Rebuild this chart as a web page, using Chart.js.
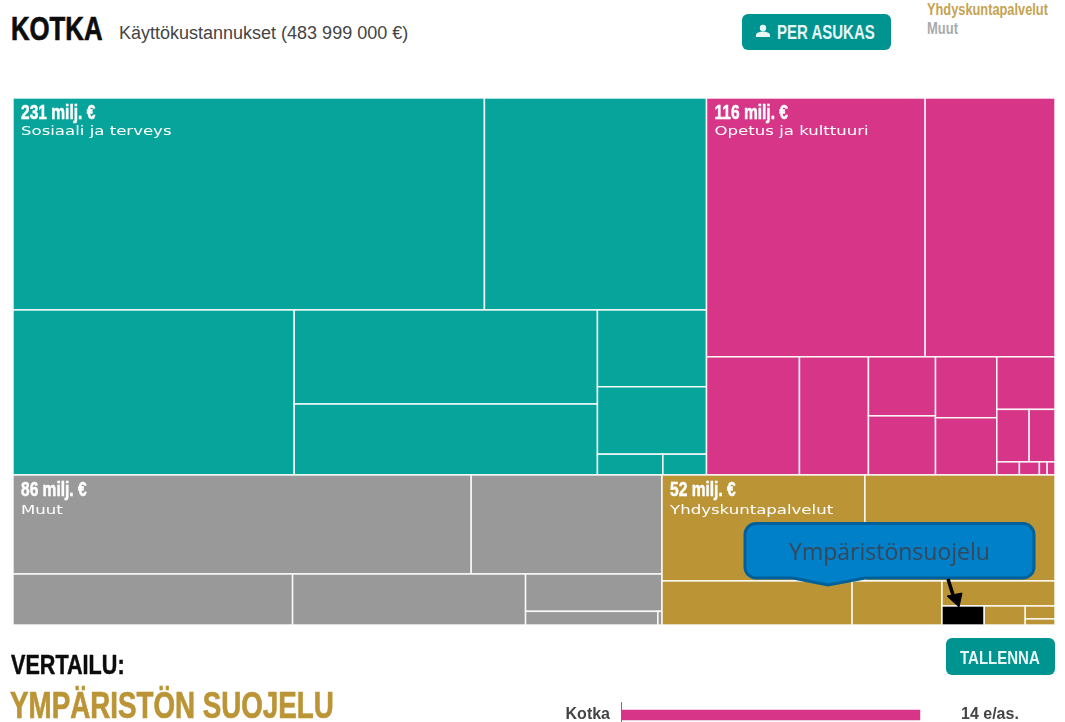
<!DOCTYPE html>
<html lang="fi">
<head>
<meta charset="utf-8">
<title>Kotka</title>
<script src="https://cdn.jsdelivr.net/npm/chart.js@4/dist/chart.umd.min.js"></script>
<style>
    html, body { margin: 0; padding: 0; width: 1065px; height: 722px; overflow: hidden; background: #fff; }
    body { position: relative; font-family: "Liberation Sans", sans-serif; }
    .txt { position: absolute; white-space: nowrap; line-height: 1; transform-origin: left top; }
    #title { left: 11px; top: 12px; font-size: 33px; font-weight: bold; color: #0c0c0c; transform: scaleX(0.78); -webkit-text-stroke: 0.7px #0c0c0c; }
    #subtitle { left: 119px; top: 24px; font-size: 18px; color: #444; }
    .btn { position: absolute; background: #009490; border-radius: 6px; color: #e6f6f5; font-weight: bold; }
    .btn span { position: absolute; line-height: 1; white-space: nowrap; transform-origin: left top; }
    #perAsukas { left: 742px; top: 14px; width: 149px; height: 36px; }
    #perAsukas span { left: 35px; top: 8px; font-size: 20px; transform: scaleX(0.75); }
    #perAsukas svg { position: absolute; left: 13px; top: 10px; }
    #tallenna { left: 946px; top: 638px; width: 109px; height: 37px; }
    #tallenna span { left: 14px; top: 10px; font-size: 19px; transform: scaleX(0.79); }
    #legendA { left: 927px; top: 2px; font-size: 16px; font-weight: bold; color: #c6a350; transform: scaleX(0.8); }
    #legendB { left: 927px; top: 21px; font-size: 16px; font-weight: bold; color: #aaa; transform: scaleX(0.81); }
    #vertailu { left: 11px; top: 652px; font-size: 27px; font-weight: bold; color: #0c0c0c; transform: scaleX(0.8); -webkit-text-stroke: 0.5px #0c0c0c; }
    #aihe { left: 10px; top: 687px; font-size: 37px; font-weight: bold; color: #bb9436; transform: scaleX(0.75); -webkit-text-stroke: 0.7px #bb9436; }
    #treemap { position: absolute; left: 13px; top: 98px; }
    #compare { position: absolute; left: 530px; top: 702px; }
    #callout { position: absolute; left: 0; top: 0; pointer-events: none; }
    #calloutText { left: 744px; top: 540px; width: 291px; text-align: center; font-family: "Open Sans", sans-serif; font-size: 23px; color: #37475a; }
</style>
</head>
<body>
<div class="txt" id="title">KOTKA</div>
<div class="txt" id="subtitle">Käyttökustannukset (483 999 000 €)</div>
<div class="btn" id="perAsukas">
    <svg width="16" height="14" viewBox="0 0 16 14"><circle cx="8" cy="4" r="3.2" fill="#e6f6f5"/><path d="M1 13v-2c0-2.2 4.4-3.4 7-3.4s7 1.200 7 3.400v2z" fill="#e6f6f5"/></svg>
    <span>PER ASUKAS</span>
</div>
<div class="txt" id="legendA">Yhdyskuntapalvelut</div>
<div class="txt" id="legendB">Muut</div>

<canvas id="treemap" width="1042" height="527"></canvas>

<svg id="callout" width="1065" height="722">
    <path d="M756 523.500H1023a11 11 0 0 1 11 11V567a11 11 0 0 1 -11 11H865L828 585 793 578H756a11 11 0 0 1 -11 -11V534.500a11 11 0 0 1 11 -11z" fill="#0080c8" stroke="#00609a" stroke-width="3"/>
    <path d="M948 579L954 598" stroke="#000" stroke-width="3.500" fill="none"/>
    <path d="M947 596L962 593 959 607z" fill="#000" stroke="#000" stroke-width="1"/>
</svg>
<div class="txt" id="calloutText">Ympäristönsuojelu</div>

<div class="txt" id="vertailu">VERTAILU:</div>
<div class="txt" id="aihe">YMPÄRISTÖN SUOJELU</div>
<div class="btn" id="tallenna"><span>TALLENNA</span></div>
<canvas id="compare" width="535" height="26"></canvas>

<script>
// cell values, milj. €
const sosiaaliValues = [88.3, 41.6, 41.0, 25.2, 19.0, 7.4, 6.5, 1.2, 0.8];
const opetusValues = [50.0, 29.7, 9.7, 7.2, 3.5, 3.5, 3.3, 3.1, 2.7, 1.5, 1.2, 0.26, 0.23, 0.09, 0.09];
const muutValues = [40.1, 16.7, 12.6, 10.5, 4.5, 1.6, 0.05];
const yhdyskuntaValues = [19.0, 17.8, 7.4, 3.5, 2.5, 0.71, 0.69, 0.34, 0.16];

// how each group is cut: 'r' stacks rows, 'c' puts columns side by side, numbers point into the values
const sosiaaliSplit = ['r', ['c', 0, 1], ['c', 2, ['r', 3, 4], ['r', 5, 6, ['c', 7, 8]]]];
const opetusSplit = ['r', ['c', 0, 1], ['c', 2, 3, ['r', 4, 5], ['r', 6, 7], ['r', 8, ['c', 9, 10], ['c', 11, 12, 13, 14]]]];
const muutSplit = ['r', ['c', 0, 1], ['c', 2, 3, ['r', 4, ['c', 5, 6]]]];
const yhdyskuntaSplit = ['r', ['c', 0, 1], ['c', 2, 3, ['r', 4, ['c', 5, 6, ['r', 7, 8]]]]];

const groupNames = ['Sosiaali ja terveys', 'Opetus ja kulttuuri', 'Muut', 'Yhdyskuntapalvelut'];
const groupAmounts = ['231 milj. €', '116 milj. €', '86 milj. €', '52 milj. €'];
const groupValues = [sosiaaliValues, opetusValues, muutValues, yhdyskuntaValues];
const groupSplits = [sosiaaliSplit, opetusSplit, muutSplit, yhdyskuntaSplit];
const groupColors = ['#06a49b', '#d63588', '#999999', '#bb9436'];
const groupRows = [[0, 1], [2, 3]];

// Ympäristönsuojelu cell
const selectedGroup = 3;
const selectedCell = 5;

const compareCities = ['Kotka'];
const compareValues = [14];
const compareUnit = 'e/as.';

function sum(list) {
    return list.reduce((a, b) => a + b, 0);
}

function nodeTotal(node, values) {
    if (typeof node === 'number') return values[node];
    return sum(node.slice(1).map(n => nodeTotal(n, values)));
}

function cutNode(node, values, box, out) {
    if (typeof node === 'number') {
        out.push({ x: box.x0, y: box.y0, x2: box.x1, y2: box.y1, cell: node });
        return;
    }
    let total = nodeTotal(node, values);
    let pos = node[0] === 'r' ? box.y0 : box.x0;
    node.slice(1).forEach(child => {
        let share = nodeTotal(child, values) / total;
        if (node[0] === 'r') {
            let next = pos + (box.y1 - box.y0) * share;
            cutNode(child, values, { x0: box.x0, x1: box.x1, y0: pos, y1: next }, out);
            pos = next;
        } else {
            let next = pos + (box.x1 - box.x0) * share;
            cutNode(child, values, { x0: pos, x1: next, y0: box.y0, y1: box.y1 }, out);
            pos = next;
        }
    });
}

let grandTotal = sum(groupValues.map(sum));
let treemapDatasets = [];
let rowTop = 0;
groupRows.forEach(row => {
    let rowTotal = sum(row.map(g => sum(groupValues[g])));
    let rowBottom = rowTop + rowTotal / grandTotal;
    let left = 0;
    row.forEach(g => {
        let right = left + sum(groupValues[g]) / rowTotal;
        let cells = [];
        cutNode(groupSplits[g], groupValues[g], { x0: left, x1: right, y0: rowTop, y1: rowBottom }, cells);
        treemapDatasets[g] = {
            label: groupNames[g],
            data: cells,
            backgroundColor: groupColors[g],
            pointRadius: 0,
            groupIndex: g
        };
        left = right;
    });
    rowTop = rowBottom;
});

// Chart.js has no treemap type, so the cells are painted here from the scales
const treemapCells = {
    id: 'treemapCells',
    beforeDatasetsDraw(chart) {
        const { ctx, scales } = chart;
        ctx.save();
        chart.data.datasets.forEach(ds => {
            ds.data.forEach(c => {
                let px = scales.x.getPixelForValue(c.x);
                let py = scales.y.getPixelForValue(c.y);
                let w = scales.x.getPixelForValue(c.x2) - px;
                let h = scales.y.getPixelForValue(c.y2) - py;
                let selected = ds.groupIndex === selectedGroup && c.cell === selectedCell;
                ctx.fillStyle = selected ? '#000' : ds.backgroundColor;
                ctx.fillRect(px, py, w, h);
                ctx.strokeStyle = 'rgba(255,255,255,0.9)';
                ctx.lineWidth = 1.5;
                ctx.strokeRect(px, py, w, h);
            });
        });
        chart.data.datasets.forEach(ds => {
            let first = ds.data[0];
            let px = scales.x.getPixelForValue(first.x) + 8;
            let py = scales.y.getPixelForValue(first.y);
            // lower row labels sit a bit further down in the original
            let nudge = first.y > 0 ? 1.5 : -0.5;
            ctx.fillStyle = '#fff';
            ctx.strokeStyle = '#fff';
            ctx.lineWidth = 0.5;
            ctx.textBaseline = 'alphabetic';
            stretchedText(ctx, groupAmounts[ds.groupIndex], 'bold 21px "Liberation Sans"', 0.74, px, py + 21, true);
            stretchedText(ctx, groupNames[ds.groupIndex], '12px "DejaVu Sans"', 1.38, px, py + 37.5 + nudge, false);
        });
        ctx.restore();
    }
};

// the original labels use a condensed and a wide face, neither is installed
function stretchedText(ctx, text, font, scaleX, x, y, heavy) {
    ctx.save();
    ctx.translate(x, y);
    ctx.scale(scaleX, 1);
    ctx.font = font;
    ctx.fillText(text, 0, 0);
    if (heavy) ctx.strokeText(text, 0, 0);
    ctx.restore();
}

new Chart(document.getElementById('treemap'), {
    type: 'scatter',
    data: { datasets: treemapDatasets },
    options: {
        responsive: false,
        animation: false,
        layout: { padding: 0 },
        scales: {
            x: { type: 'linear', display: false, min: 0, max: 1 },
            y: { type: 'linear', display: false, min: 0, max: 1, reverse: true }
        },
        plugins: { legend: { display: false }, tooltip: { enabled: false } }
    },
    plugins: [treemapCells]
});

const compareLabels = {
    id: 'compareLabels',
    afterDatasetsDraw(chart) {
        const { ctx, chartArea } = chart;
        let bar = chart.getDatasetMeta(0).data[0];
        ctx.save();
        ctx.fillStyle = '#444';
        ctx.font = 'bold 16px "Liberation Sans"';
        ctx.textBaseline = 'middle';
        ctx.fillText(compareValues[0] + ' ' + compareUnit, chartArea.left + 340, bar.y);
        ctx.restore();
    }
};

new Chart(document.getElementById('compare'), {
    type: 'bar',
    data: {
        labels: compareCities,
        datasets: [{
            data: compareValues,
            backgroundColor: '#d63588',
            barThickness: 10
        }]
    },
    options: {
        indexAxis: 'y',
        responsive: false,
        animation: false,
        layout: { padding: { right: 17 } },
        scales: {
            x: { type: 'linear', display: false, min: 0, max: 20 },
            y: {
                afterFit: scale => {
                    scale.width = 91;
                    scale.paddingTop = 0;
                    scale.paddingBottom = 0;
                },
                grid: { display: false, drawTicks: false },
                border: { color: '#777', width: 1 },
                ticks: { color: '#444', padding: 11, font: { family: '"Liberation Sans"', size: 16, weight: 'bold' } }
            }
        },
        plugins: { legend: { display: false }, tooltip: { enabled: false } }
    },
    plugins: [compareLabels]
});
</script>
</body>
</html>
